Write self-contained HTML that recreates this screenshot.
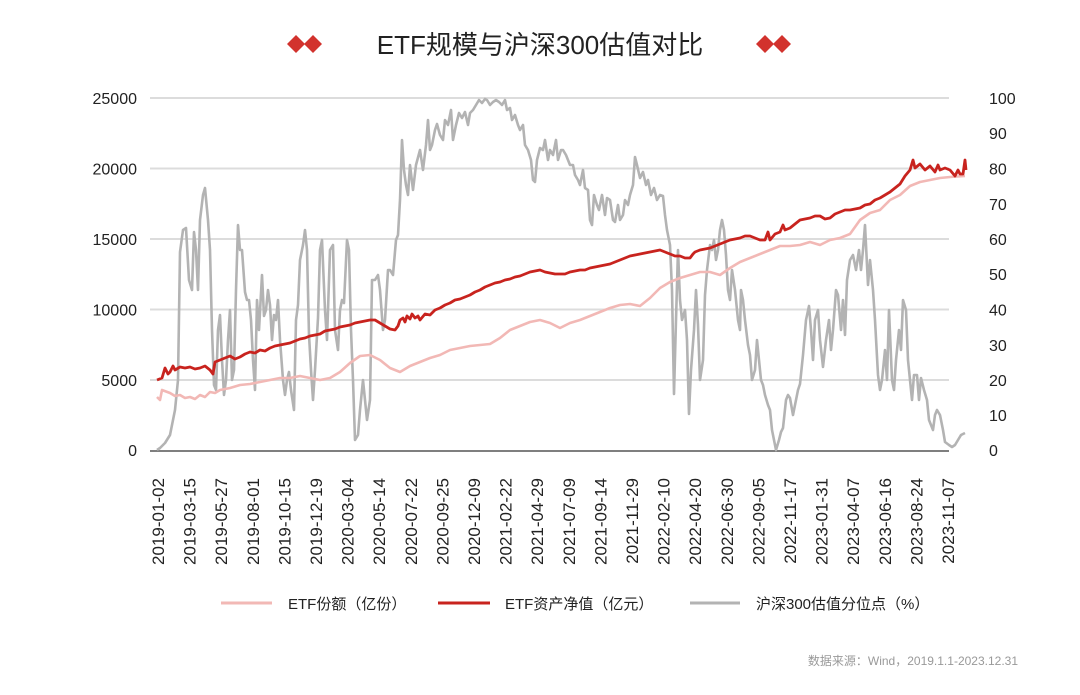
<!DOCTYPE html>
<html><head><meta charset="utf-8"><style>
html,body{margin:0;padding:0;background:#fff;}
svg{display:block;font-family:"Liberation Sans","Noto Sans CJK SC",sans-serif;}
</style></head><body>
<svg width="1080" height="695" viewBox="0 0 1080 695" xmlns="http://www.w3.org/2000/svg">
<rect width="1080" height="695" fill="#fff"/>
<g fill="#d2322d">
<path d="M287 44 L296 35 L305 44 L296 53Z"/><path d="M304 44 L313 35 L322 44 L313 53Z"/>
<path d="M756 44 L765 35 L774 44 L765 53Z"/><path d="M773 44 L782 35 L791 44 L782 53Z"/>
</g>
<text x="540" y="54" text-anchor="middle" font-size="26" fill="#222">ETF规模与沪深300估值对比</text>
<g stroke="#dcdcdc" stroke-width="2">
<line x1="150" y1="98" x2="949" y2="98"/><line x1="150" y1="168.5" x2="949" y2="168.5"/>
<line x1="150" y1="239" x2="949" y2="239"/><line x1="150" y1="309.5" x2="949" y2="309.5"/>
<line x1="150" y1="380" x2="949" y2="380"/>
</g>
<line x1="150" y1="451" x2="949" y2="451" stroke="#555" stroke-width="1.5"/>
<g font-size="16" fill="#222" text-anchor="end">
<text x="137" y="104">25000</text><text x="137" y="174.5">20000</text><text x="137" y="245">15000</text>
<text x="137" y="315.5">10000</text><text x="137" y="386">5000</text><text x="137" y="456">0</text>
</g>
<g font-size="16" fill="#222">
<text x="989" y="104">100</text><text x="989" y="139">90</text><text x="989" y="174.5">80</text>
<text x="989" y="210">70</text><text x="989" y="245">60</text><text x="989" y="280">50</text>
<text x="989" y="315.5">40</text><text x="989" y="351">30</text><text x="989" y="386">20</text>
<text x="989" y="421">10</text><text x="989" y="456">0</text>
</g>
<polyline fill="none" stroke="#b3b3b3" stroke-width="2.6" stroke-linejoin="round" points="157,450 160,448 165,443 170,435 175,410 178,380 180,252 183,230 186,228 189,280 192,290 194,232 196,250 198,290 200,220 203,195 205,188 208,220 210,250 212,330 214,385 216,390 218,330 220,315 222,360 224,395 226,380 228,340 230,310 232,380 234,370 236,290 238,225 240,250 242,250 245,292 247,300 249,300 251,320 253,360 255,390 257,300 259,330 262,275 264,316 266,310 268,290 270,305 272,340 274,315 276,320 278,300 280,340 283,380 285,395 287,380 289,372 291,390 294,410 296,320 298,305 300,260 303,245 305,230 307,250 309,335 311,370 313,400 315,370 318,318 320,250 322,240 325,310 327,340 330,250 333,245 335,330 338,350 340,310 342,300 344,303 347,240 349,250 351,330 353,380 355,440 358,435 360,410 363,380 367,420 370,400 372,280 375,280 378,275 380,290 383,330 385,320 388,270 390,270 393,275 396,240 398,235 400,200 402,140 404,170 406,185 408,195 410,165 413,190 416,165 420,150 423,170 426,145 428,120 430,150 432,145 435,130 437,124 440,135 443,140 445,120 448,125 451,110 453,140 456,125 459,113 462,118 465,112 468,125 470,113 473,110 476,105 479,100 482,103 485,99 487,100 490,105 493,102 496,100 499,102 502,105 505,100 507,110 510,108 512,120 515,115 518,125 520,130 523,125 525,145 528,150 531,160 533,180 535,182 537,160 540,148 543,150 545,140 548,160 550,150 553,155 556,140 558,160 561,150 563,150 566,155 570,165 573,165 575,175 578,180 580,185 583,170 585,188 588,190 590,220 592,225 594,195 597,205 599,210 602,195 605,215 607,198 610,200 613,220 615,222 618,205 620,220 623,215 625,200 628,205 630,195 633,185 635,157 637,165 640,178 643,172 646,185 648,180 651,195 654,188 657,200 660,195 663,196 665,215 667,230 670,245 672,290 674,394 676,320 678,250 680,300 682,320 685,310 687,340 689,414 691,370 694,330 696,290 698,325 700,380 703,360 705,295 707,270 710,245 712,250 714,240 716,260 718,250 720,230 722,220 724,230 726,255 728,290 730,300 732,270 735,290 737,310 738,320 740,330 741,290 743,300 745,320 748,345 750,355 752,380 755,370 757,340 759,360 761,380 763,385 765,395 768,405 770,410 772,430 774,440 776,450 779,440 781,432 783,428 786,400 788,395 790,398 793,415 796,400 798,390 800,384 803,355 806,320 809,306 811,330 813,360 815,320 818,310 820,340 823,367 826,340 829,320 831,350 833,330 836,290 838,295 841,330 843,300 845,335 847,280 850,260 853,255 856,270 859,250 861,270 863,250 865,225 868,285 870,260 873,290 875,320 878,375 880,390 882,380 885,350 887,380 889,310 892,380 894,390 896,360 899,330 901,350 903,300 906,310 908,360 910,380 912,400 914,375 917,375 919,400 921,378 924,390 927,400 929,420 933,430 935,415 937,410 940,415 943,430 945,442 949,445 952,447 955,445 958,440 961,435 965,433"/>
<polyline fill="none" stroke="#f2b8b5" stroke-width="2.6" stroke-linejoin="round" points="157,397 160,400 162,390 170,393 175,396 180,395 185,398 190,397 195,399 200,395 205,397 210,392 215,393 220,390 230,388 240,385 250,384 260,382 270,380 280,378 290,378 300,376 310,378 320,380 330,378 340,372 350,363 360,356 370,355 380,360 390,368 400,372 410,366 420,362 430,358 440,355 450,350 460,348 470,346 480,345 490,344 500,338 510,330 520,326 530,322 540,320 550,323 560,328 570,323 580,320 590,316 600,312 610,308 620,305 630,304 640,306 650,298 660,288 670,282 680,278 690,275 700,272 710,272 720,275 730,268 740,262 750,258 760,254 770,250 780,246 790,246 800,245 810,242 820,245 830,240 840,238 850,234 860,220 870,213 880,210 890,200 900,195 910,186 920,182 930,180 940,178 950,177 965,176"/>
<polyline fill="none" stroke="#c8231e" stroke-width="2.8" stroke-linejoin="round" points="157,380 162,378 165,368 168,374 170,372 173,366 175,370 180,367 185,368 190,367 195,369 200,368 205,366 210,370 213,374 215,362 220,360 225,358 230,356 235,359 240,357 245,354 250,352 255,353 260,350 265,351 270,348 275,346 280,345 285,344 290,343 295,341 300,339 305,338 310,336 315,335 320,334 325,331 330,330 335,329 340,327 345,326 350,325 355,323 360,322 365,321 370,320 375,320 380,323 385,326 390,329 395,330 398,326 400,320 403,318 405,322 407,316 410,319 412,314 415,318 418,316 420,320 425,314 430,315 435,310 440,308 445,305 450,303 455,300 460,299 465,297 470,295 475,292 480,290 485,287 490,285 495,283 500,282 505,280 510,279 515,277 520,276 525,274 530,272 535,271 540,270 545,272 550,273 555,274 560,274 565,274 570,272 575,271 580,270 585,270 590,268 595,267 600,266 605,265 610,264 615,262 620,260 625,258 630,256 635,255 640,254 645,253 650,252 655,251 660,250 665,252 670,254 675,256 680,256 685,258 690,258 693,254 695,252 700,250 705,249 710,248 715,246 720,244 725,242 730,240 735,239 740,238 745,236 750,236 755,238 760,240 765,240 768,232 770,240 775,234 780,232 783,225 785,230 790,228 795,224 800,220 805,219 810,218 815,216 820,216 825,219 830,218 835,214 840,212 845,210 850,210 855,209 860,208 865,205 870,204 875,200 880,198 885,195 890,192 895,188 900,184 905,176 910,170 913,160 915,168 920,164 925,170 930,166 935,172 938,165 940,170 945,168 950,170 955,176 958,170 960,174 963,174 965,160 966,170"/>
<g font-size="17" fill="#222" text-anchor="end">
<text transform="translate(164,478) rotate(-90)">2019-01-02</text>
<text transform="translate(195.6,478) rotate(-90)">2019-03-15</text>
<text transform="translate(227.2,478) rotate(-90)">2019-05-27</text>
<text transform="translate(258.8,478) rotate(-90)">2019-08-01</text>
<text transform="translate(290.4,478) rotate(-90)">2019-10-15</text>
<text transform="translate(322,478) rotate(-90)">2019-12-19</text>
<text transform="translate(353.6,478) rotate(-90)">2020-03-04</text>
<text transform="translate(385.2,478) rotate(-90)">2020-05-14</text>
<text transform="translate(416.8,478) rotate(-90)">2020-07-22</text>
<text transform="translate(448.4,478) rotate(-90)">2020-09-25</text>
<text transform="translate(480,478) rotate(-90)">2020-12-09</text>
<text transform="translate(511.6,478) rotate(-90)">2021-02-22</text>
<text transform="translate(543.2,478) rotate(-90)">2021-04-29</text>
<text transform="translate(574.8,478) rotate(-90)">2021-07-09</text>
<text transform="translate(606.4,478) rotate(-90)">2021-09-14</text>
<text transform="translate(638,478) rotate(-90)">2021-11-29</text>
<text transform="translate(669.6,478) rotate(-90)">2022-02-10</text>
<text transform="translate(701.2,478) rotate(-90)">2022-04-20</text>
<text transform="translate(732.8,478) rotate(-90)">2022-06-30</text>
<text transform="translate(764.4,478) rotate(-90)">2022-09-05</text>
<text transform="translate(796,478) rotate(-90)">2022-11-17</text>
<text transform="translate(827.6,478) rotate(-90)">2023-01-31</text>
<text transform="translate(859.2,478) rotate(-90)">2023-04-07</text>
<text transform="translate(890.8,478) rotate(-90)">2023-06-16</text>
<text transform="translate(922.4,478) rotate(-90)">2023-08-24</text>
<text transform="translate(954,478) rotate(-90)">2023-11-07</text>
</g>
<line x1="221" y1="603" x2="272" y2="603" stroke="#f2b8b5" stroke-width="3"/>
<text x="288" y="609" font-size="15" fill="#222">ETF份额（亿份）</text>
<line x1="438" y1="603" x2="490" y2="603" stroke="#c8231e" stroke-width="3"/>
<text x="505" y="609" font-size="15" fill="#222">ETF资产净值（亿元）</text>
<line x1="690" y1="603" x2="740" y2="603" stroke="#b3b3b3" stroke-width="3"/>
<text x="756" y="609" font-size="15" fill="#222">沪深300估值分位点（%）</text>
<text x="1018" y="665" font-size="12" fill="#999" text-anchor="end">数据来源：Wind，2019.1.1-2023.12.31</text>
</svg>
</body></html>
